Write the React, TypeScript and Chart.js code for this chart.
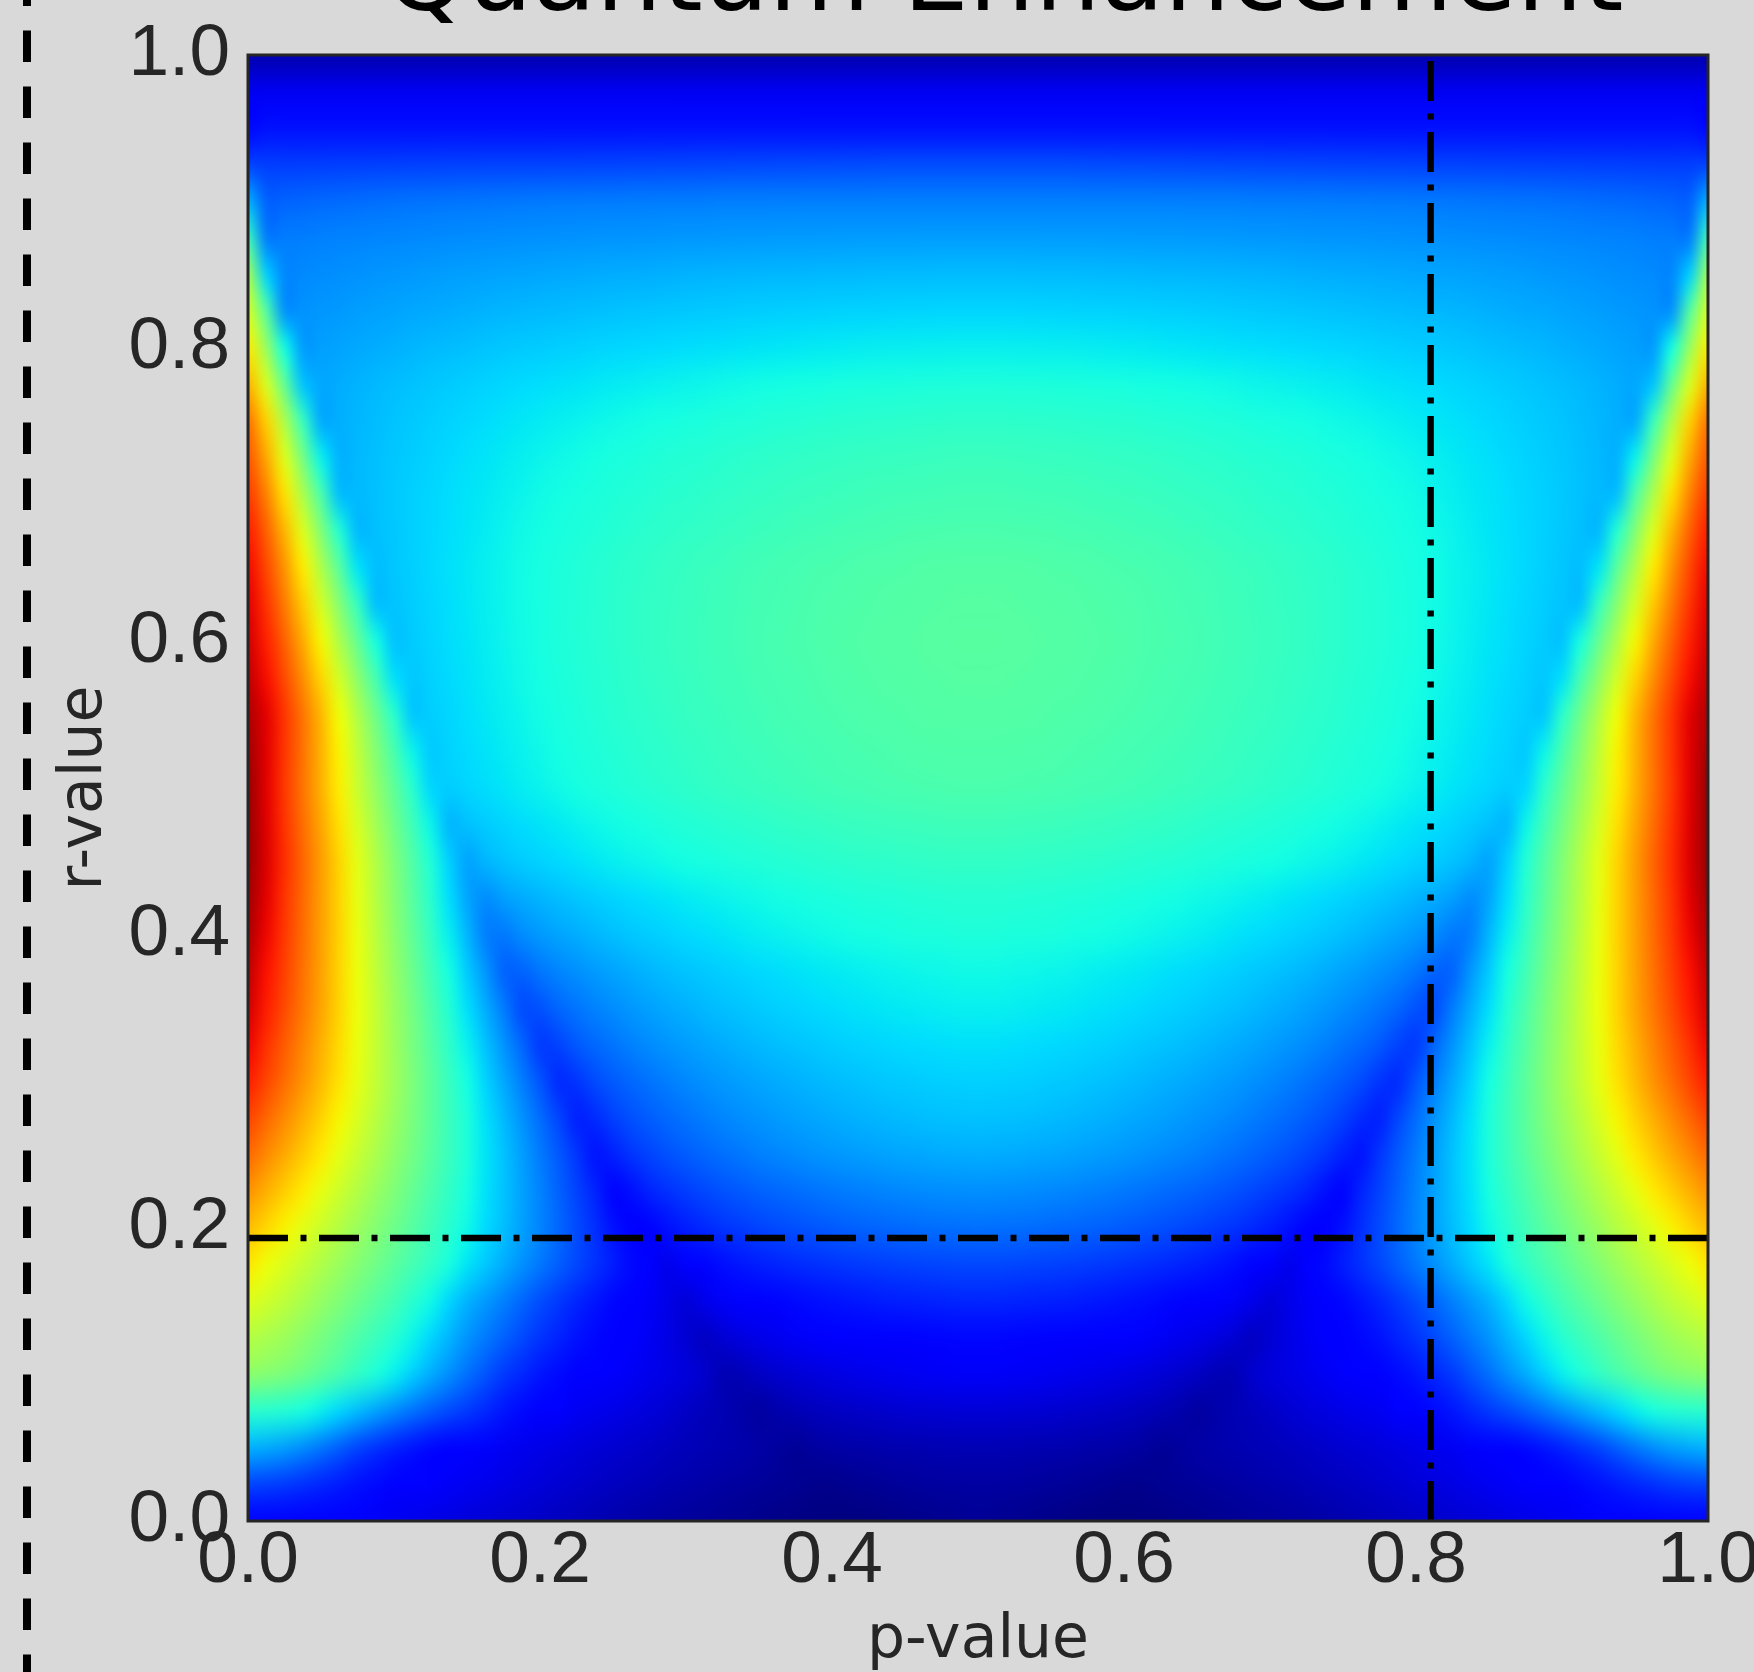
import React, { useEffect, useRef } from 'react';
import { Chart, registerables } from 'chart.js';

Chart.register(...registerables);

// ---------------- data ----------------
const TITLE = 'Quantum Enhancement';
const X_LABEL = 'p-value';
const Y_LABEL = 'r-value';

const X_TICKS = [0, 0.2, 0.4, 0.6, 0.8, 1.0];
const Y_TICKS = [0, 0.2, 0.4, 0.6, 0.8, 1.0];

// marker lines (dash-dot)
const P_MARK = 0.81;
const R_MARK = 0.193;

// grid columns (p) and rows (r, listed top to bottom)
const P_VALUES = [0, 0.0125, 0.025, 0.0375, 0.05, 0.0625, 0.075, 0.0875, 0.1, 0.1125, 0.125, 0.1375, 0.15, 0.1625, 0.175, 0.1875, 0.2, 0.2125, 0.225, 0.2375, 0.25, 0.2625, 0.275, 0.2875, 0.3, 0.3125, 0.325, 0.3375, 0.35, 0.3625, 0.375, 0.3875, 0.4, 0.4125, 0.425, 0.4375, 0.45, 0.4625, 0.475, 0.4875, 0.5, 0.5125, 0.525, 0.5375, 0.55, 0.5625, 0.575, 0.5875, 0.6, 0.6125, 0.625, 0.6375, 0.65, 0.6625, 0.675, 0.6875, 0.7, 0.7125, 0.725, 0.7375, 0.75, 0.7625, 0.775, 0.7875, 0.8, 0.8125, 0.825, 0.8375, 0.85, 0.8625, 0.875, 0.8875, 0.9, 0.9125, 0.925, 0.9375, 0.95, 0.9625, 0.975, 0.9875, 1];
const R_VALUES = [1, 0.975, 0.95, 0.925, 0.9, 0.875, 0.85, 0.825, 0.8, 0.775, 0.75, 0.725, 0.7, 0.675, 0.65, 0.625, 0.6, 0.575, 0.55, 0.525, 0.5, 0.475, 0.45, 0.425, 0.4, 0.375, 0.35, 0.325, 0.3, 0.275, 0.25, 0.225, 0.2, 0.175, 0.15, 0.125, 0.1, 0.075, 0.05, 0.025, 0];

// normalised enhancement value, one row per r (top to bottom), one entry per p
const R1000 = [
  0.04, 0.04, 0.04, 0.04, 0.04, 0.04, 0.04, 0.04, 0.04,
  0.04, 0.04, 0.04, 0.04, 0.04, 0.04, 0.04, 0.04, 0.04,
  0.04, 0.04, 0.04, 0.04, 0.04, 0.04, 0.04, 0.04, 0.04,
  0.04, 0.04, 0.04, 0.04, 0.04, 0.04, 0.04, 0.04, 0.04,
  0.04, 0.04, 0.04, 0.04, 0.04, 0.04, 0.04, 0.04, 0.04,
  0.04, 0.04, 0.04, 0.04, 0.04, 0.04, 0.04, 0.04, 0.04,
  0.04, 0.04, 0.04, 0.04, 0.04, 0.04, 0.04, 0.04, 0.04,
  0.04, 0.04, 0.04, 0.04, 0.04, 0.04, 0.04, 0.04, 0.04,
  0.04, 0.04, 0.04, 0.04, 0.04, 0.04, 0.04, 0.04, 0.04,
];
const R0975 = [
  0.1, 0.1, 0.1, 0.1, 0.1, 0.1, 0.1, 0.1, 0.1,
  0.1, 0.1, 0.1, 0.1, 0.1, 0.1, 0.1, 0.1, 0.1,
  0.1, 0.1, 0.1, 0.1, 0.1, 0.1, 0.1, 0.1, 0.1,
  0.1, 0.1, 0.1, 0.1, 0.1, 0.1, 0.1, 0.1, 0.1,
  0.1, 0.1, 0.1, 0.1, 0.1, 0.1, 0.1, 0.1, 0.1,
  0.1, 0.1, 0.1, 0.1, 0.1, 0.1, 0.1, 0.1, 0.1,
  0.1, 0.1, 0.1, 0.1, 0.1, 0.1, 0.1, 0.1, 0.1,
  0.1, 0.1, 0.1, 0.1, 0.1, 0.1, 0.1, 0.1, 0.1,
  0.1, 0.1, 0.1, 0.1, 0.1, 0.1, 0.1, 0.1, 0.1,
];
const R0950 = [
  0.13, 0.14, 0.14, 0.14, 0.14, 0.14, 0.14, 0.14, 0.14,
  0.14, 0.14, 0.14, 0.14, 0.14, 0.14, 0.14, 0.14, 0.14,
  0.14, 0.14, 0.14, 0.14, 0.14, 0.14, 0.14, 0.14, 0.14,
  0.14, 0.14, 0.14, 0.14, 0.14, 0.14, 0.14, 0.14, 0.14,
  0.14, 0.14, 0.14, 0.14, 0.14, 0.14, 0.14, 0.14, 0.14,
  0.14, 0.14, 0.14, 0.14, 0.14, 0.14, 0.14, 0.14, 0.14,
  0.14, 0.14, 0.14, 0.14, 0.14, 0.14, 0.14, 0.14, 0.14,
  0.14, 0.14, 0.14, 0.14, 0.14, 0.14, 0.14, 0.14, 0.14,
  0.14, 0.14, 0.14, 0.14, 0.14, 0.14, 0.14, 0.14, 0.13,
];
const R0925 = [0.19, 0.186, 0.185, 0.185, 0.185, 0.186, 0.186, 0.187, 0.187, 0.188, 0.188, 0.189, 0.189, 0.19, 0.19, 0.19, 0.19, 0.191, 0.191, 0.192, 0.192, 0.193, 0.193, 0.194, 0.194, 0.195, 0.195, 0.196, 0.196, 0.197, 0.197, 0.198, 0.198, 0.199, 0.199, 0.2, 0.2, 0.2, 0.2, 0.2, 0.2,
  0.2, 0.2, 0.2, 0.2, 0.2, 0.199, 0.199, 0.198, 0.198, 0.197, 0.197, 0.196, 0.196, 0.195, 0.195, 0.194, 0.194, 0.193, 0.193, 0.192, 0.192, 0.191, 0.191, 0.19, 0.19, 0.19, 0.19, 0.189, 0.189, 0.188, 0.188, 0.187, 0.187, 0.186, 0.186, 0.185, 0.185, 0.185, 0.186, 0.19];
const R0900 = [0.3, 0.22, 0.222, 0.225, 0.228, 0.23, 0.232, 0.234, 0.236, 0.238, 0.239, 0.24, 0.241, 0.242, 0.243, 0.244, 0.245, 0.246, 0.246, 0.247, 0.247, 0.248, 0.248, 0.249, 0.249, 0.249,
  0.25, 0.25, 0.25, 0.25, 0.25, 0.25, 0.25, 0.25, 0.25, 0.25,
  0.25, 0.25, 0.25, 0.25, 0.25, 0.25, 0.25, 0.25, 0.25, 0.25,
  0.25, 0.25, 0.25, 0.25, 0.25, 0.25, 0.25, 0.25, 0.25,
  0.249, 0.249, 0.249, 0.248, 0.248, 0.247, 0.247, 0.246, 0.246, 0.245, 0.244, 0.243, 0.242, 0.241, 0.24, 0.239, 0.238, 0.236, 0.234, 0.232, 0.23, 0.228, 0.225, 0.222, 0.22, 0.3];
const R0875 = [0.42, 0.246, 0.248, 0.249, 0.251, 0.253, 0.254, 0.256, 0.257, 0.259, 0.26, 0.262, 0.263, 0.264, 0.265, 0.266, 0.267, 0.268, 0.269, 0.27, 0.271, 0.271, 0.272, 0.273, 0.274, 0.274, 0.275, 0.276, 0.276, 0.277, 0.277, 0.278, 0.278, 0.279, 0.279, 0.279, 0.279, 0.28, 0.28, 0.28, 0.28,
  0.28, 0.28, 0.28, 0.279, 0.279, 0.279, 0.279, 0.278, 0.278, 0.277, 0.277, 0.276, 0.276, 0.275, 0.274, 0.274, 0.273, 0.272, 0.271, 0.271, 0.27, 0.269, 0.268, 0.267, 0.266, 0.265, 0.264, 0.263, 0.262, 0.26, 0.259, 0.257, 0.256, 0.254, 0.253, 0.251, 0.249, 0.248, 0.246, 0.42];
const R0850 = [0.55, 0.331, 0.257, 0.26, 0.263, 0.265, 0.268, 0.271, 0.273, 0.275, 0.278, 0.28, 0.282, 0.284, 0.286, 0.287, 0.289, 0.291, 0.292, 0.294, 0.295, 0.296, 0.297, 0.299, 0.3, 0.301, 0.302, 0.303, 0.304, 0.305, 0.305, 0.306, 0.307, 0.307, 0.308, 0.309, 0.309, 0.309, 0.31, 0.31, 0.31,
  0.31, 0.31, 0.309, 0.309, 0.309, 0.308, 0.307, 0.307, 0.306, 0.305, 0.305, 0.304, 0.303, 0.302, 0.301, 0.3, 0.299, 0.297, 0.296, 0.295, 0.294, 0.292, 0.291, 0.289, 0.287, 0.286, 0.284, 0.282, 0.28, 0.278, 0.275, 0.273, 0.271, 0.268, 0.265, 0.263, 0.26, 0.257, 0.331, 0.55];
const R0825 = [0.61, 0.453, 0.266, 0.269, 0.273, 0.276, 0.28, 0.283, 0.286, 0.29, 0.292, 0.295, 0.298, 0.3, 0.303, 0.305, 0.307, 0.309, 0.311, 0.313, 0.315, 0.317, 0.318, 0.32, 0.321, 0.323, 0.324, 0.326, 0.327, 0.328, 0.329, 0.33, 0.331, 0.332, 0.332, 0.333, 0.334, 0.334, 0.335, 0.335, 0.335,
  0.335, 0.335, 0.334, 0.334, 0.333, 0.332, 0.332, 0.331, 0.33, 0.329, 0.328, 0.327, 0.326, 0.324, 0.323, 0.321, 0.32, 0.318, 0.317, 0.315, 0.313, 0.311, 0.309, 0.307, 0.305, 0.303, 0.3, 0.298, 0.295, 0.292, 0.29, 0.286, 0.283, 0.28, 0.276, 0.273, 0.269, 0.266, 0.453, 0.61];
const R0800 = [0.66, 0.536, 0.374, 0.277, 0.282, 0.286, 0.291, 0.295, 0.299, 0.303, 0.307, 0.31, 0.313, 0.317, 0.32, 0.323, 0.325, 0.328, 0.33, 0.333, 0.335, 0.337, 0.339, 0.341, 0.343, 0.345, 0.346, 0.348, 0.35, 0.351, 0.352, 0.354, 0.355, 0.356, 0.357, 0.358, 0.358, 0.359, 0.359, 0.36, 0.36,
  0.36, 0.359, 0.359, 0.358, 0.358, 0.357, 0.356, 0.355, 0.354, 0.352, 0.351, 0.35, 0.348, 0.346, 0.345, 0.343, 0.341, 0.339, 0.337, 0.335, 0.333, 0.33, 0.328, 0.325, 0.323, 0.32, 0.317, 0.313, 0.31, 0.307, 0.303, 0.299, 0.295, 0.291, 0.286, 0.282, 0.277, 0.374, 0.536, 0.66];
const R0775 = [0.72, 0.612, 0.472, 0.317, 0.289, 0.295, 0.3, 0.306, 0.311, 0.315, 0.32, 0.324, 0.328, 0.332, 0.336, 0.34, 0.343, 0.346, 0.349, 0.352, 0.355, 0.357, 0.36, 0.362, 0.364, 0.366, 0.369, 0.371, 0.373, 0.374, 0.376, 0.377, 0.379, 0.38, 0.381, 0.382, 0.383, 0.384, 0.384, 0.385, 0.385,
  0.385, 0.384, 0.384, 0.383, 0.382, 0.381, 0.38, 0.379, 0.377, 0.376, 0.374, 0.373, 0.371, 0.369, 0.366, 0.364, 0.362, 0.36, 0.357, 0.355, 0.352, 0.349, 0.346, 0.343, 0.34, 0.336, 0.332, 0.328, 0.324, 0.32, 0.315, 0.311, 0.306, 0.3, 0.295, 0.289, 0.317, 0.472, 0.612, 0.72];
const R0750 = [0.79, 0.69, 0.562, 0.419, 0.291, 0.297, 0.304, 0.31, 0.317, 0.322, 0.327, 0.332, 0.337, 0.342, 0.347, 0.351, 0.355, 0.359, 0.362, 0.366, 0.369, 0.372, 0.375, 0.378, 0.38, 0.383, 0.386, 0.388, 0.39, 0.392, 0.394, 0.396, 0.398, 0.399, 0.4, 0.401, 0.402, 0.403, 0.404, 0.405, 0.405,
  0.405, 0.404, 0.403, 0.402, 0.401, 0.4, 0.399, 0.398, 0.396, 0.394, 0.392, 0.39, 0.388, 0.386, 0.383, 0.38, 0.378, 0.375, 0.372, 0.369, 0.366, 0.362, 0.359, 0.355, 0.351, 0.347, 0.342, 0.337, 0.332, 0.327, 0.322, 0.317, 0.31, 0.304, 0.297, 0.291, 0.419, 0.562, 0.69, 0.79];
const R0725 = [0.82, 0.733, 0.62, 0.495, 0.362, 0.299, 0.306, 0.313, 0.32, 0.326, 0.332, 0.338, 0.344, 0.349, 0.354, 0.359, 0.364, 0.368, 0.372, 0.376, 0.38, 0.383, 0.387, 0.39, 0.393, 0.395, 0.398, 0.401, 0.403, 0.406, 0.408, 0.41, 0.412, 0.413, 0.415, 0.416, 0.417, 0.418, 0.419, 0.42, 0.42,
  0.42, 0.419, 0.418, 0.417, 0.416, 0.415, 0.413, 0.412, 0.41, 0.408, 0.406, 0.403, 0.401, 0.398, 0.395, 0.393, 0.39, 0.387, 0.383, 0.38, 0.376, 0.372, 0.368, 0.364, 0.359, 0.354, 0.349, 0.344, 0.338, 0.332, 0.326, 0.32, 0.313, 0.306, 0.299, 0.362, 0.495, 0.62, 0.733, 0.82];
const R0700 = [0.85, 0.773, 0.672, 0.56, 0.442, 0.31, 0.307, 0.314, 0.322, 0.329, 0.335, 0.342, 0.348, 0.353, 0.359, 0.364, 0.37, 0.374, 0.379, 0.383, 0.387, 0.39, 0.394, 0.398, 0.4, 0.404, 0.407, 0.409, 0.412, 0.414, 0.417, 0.419, 0.421, 0.423, 0.424, 0.426, 0.427, 0.428, 0.429, 0.43, 0.43,
  0.43, 0.429, 0.428, 0.427, 0.426, 0.424, 0.423, 0.421, 0.419, 0.417, 0.414, 0.412, 0.409, 0.407, 0.404, 0.4, 0.398, 0.394, 0.39, 0.387, 0.383, 0.379, 0.374, 0.37, 0.364, 0.359, 0.353, 0.348, 0.342, 0.335, 0.329, 0.322, 0.314, 0.307, 0.31, 0.442, 0.56, 0.672, 0.773, 0.85];
const R0675 = [0.88, 0.809, 0.718, 0.617, 0.508, 0.393, 0.305, 0.313, 0.321, 0.329, 0.336, 0.343, 0.35, 0.356, 0.363, 0.369, 0.374, 0.379, 0.384, 0.388, 0.393, 0.397, 0.401, 0.405, 0.408, 0.411, 0.414, 0.417, 0.421, 0.423, 0.426, 0.428, 0.43, 0.432, 0.434, 0.435, 0.437, 0.438, 0.439, 0.44, 0.44,
  0.44, 0.439, 0.438, 0.437, 0.435, 0.434, 0.432, 0.43, 0.428, 0.426, 0.423, 0.421, 0.417, 0.414, 0.411, 0.408, 0.405, 0.401, 0.397, 0.393, 0.388, 0.384, 0.379, 0.374, 0.369, 0.363, 0.356, 0.35, 0.343, 0.336, 0.329, 0.321, 0.313, 0.305, 0.393, 0.508, 0.617, 0.718, 0.809, 0.88];
const R0650 = [0.9, 0.836, 0.753, 0.661, 0.562, 0.459, 0.35, 0.311, 0.32, 0.328, 0.337, 0.345, 0.352, 0.359, 0.365, 0.372, 0.378, 0.383, 0.389, 0.394, 0.399, 0.403, 0.407, 0.412, 0.415, 0.419, 0.422, 0.426, 0.429, 0.432, 0.434, 0.437, 0.439, 0.441, 0.443, 0.445, 0.446, 0.448, 0.449, 0.45, 0.45,
  0.45, 0.449, 0.448, 0.446, 0.445, 0.443, 0.441, 0.439, 0.437, 0.434, 0.432, 0.429, 0.426, 0.422, 0.419, 0.415, 0.412, 0.407, 0.403, 0.399, 0.394, 0.389, 0.383, 0.378, 0.372, 0.365, 0.359, 0.352, 0.345, 0.337, 0.328, 0.32, 0.311, 0.35, 0.459, 0.562, 0.661, 0.753, 0.836, 0.9];
const R0625 = [0.915, 0.857, 0.781, 0.697, 0.608, 0.513, 0.415, 0.312, 0.317, 0.326, 0.335, 0.343, 0.351, 0.358, 0.365, 0.372, 0.378, 0.384, 0.39, 0.395, 0.4, 0.405, 0.409, 0.413, 0.417, 0.421, 0.424, 0.428, 0.431, 0.434, 0.437, 0.44, 0.442, 0.444, 0.446, 0.448, 0.449, 0.451, 0.452, 0.453, 0.453,
  0.453, 0.452, 0.451, 0.449, 0.448, 0.446, 0.444, 0.442, 0.44, 0.437, 0.434, 0.431, 0.428, 0.424, 0.421, 0.417, 0.413, 0.409, 0.405, 0.4, 0.395, 0.39, 0.384, 0.378, 0.372, 0.365, 0.358, 0.351, 0.343, 0.335, 0.326, 0.317, 0.312, 0.415, 0.513, 0.608, 0.697, 0.781, 0.857, 0.915];
const R0600 = [0.93, 0.877, 0.807, 0.73, 0.648, 0.56, 0.471, 0.378, 0.315, 0.324, 0.333, 0.342, 0.35, 0.357, 0.364, 0.371, 0.378, 0.384, 0.39, 0.395, 0.4, 0.405, 0.41, 0.414, 0.418, 0.422, 0.425, 0.429, 0.433, 0.436, 0.438, 0.441, 0.444, 0.446, 0.448, 0.45, 0.451, 0.453, 0.454, 0.455, 0.455,
  0.455, 0.454, 0.453, 0.451, 0.45, 0.448, 0.446, 0.444, 0.441, 0.438, 0.436, 0.433, 0.429, 0.425, 0.422, 0.418, 0.414, 0.41, 0.405, 0.4, 0.395, 0.39, 0.384, 0.378, 0.371, 0.364, 0.357, 0.35, 0.342, 0.333, 0.324, 0.315, 0.378, 0.471, 0.56, 0.648, 0.73, 0.807, 0.877, 0.93];
const R0575 = [0.945, 0.896, 0.832, 0.76, 0.684, 0.604, 0.52, 0.434, 0.345, 0.321, 0.33, 0.339, 0.347, 0.355, 0.362, 0.369, 0.375, 0.382, 0.388, 0.393, 0.398, 0.403, 0.408, 0.412, 0.416, 0.42, 0.424, 0.427, 0.431, 0.434, 0.436, 0.439, 0.442, 0.444, 0.446, 0.448, 0.449, 0.451, 0.452, 0.453, 0.453,
  0.453, 0.452, 0.451, 0.449, 0.448, 0.446, 0.444, 0.442, 0.439, 0.436, 0.434, 0.431, 0.427, 0.424, 0.42, 0.416, 0.412, 0.408, 0.403, 0.398, 0.393, 0.388, 0.382, 0.375, 0.369, 0.362, 0.355, 0.347, 0.339, 0.33, 0.321, 0.345, 0.434, 0.52, 0.604, 0.684, 0.76, 0.832, 0.896, 0.945];
const R0550 = [0.96, 0.914, 0.854, 0.787, 0.716, 0.641, 0.563, 0.484, 0.4, 0.319, 0.327, 0.335, 0.344, 0.352, 0.359, 0.366, 0.373, 0.379, 0.385, 0.39, 0.396, 0.401, 0.405, 0.409, 0.414, 0.417, 0.421, 0.424, 0.428, 0.431, 0.434, 0.436, 0.439, 0.441, 0.443, 0.445, 0.446, 0.448, 0.449, 0.45, 0.45,
  0.45, 0.449, 0.448, 0.446, 0.445, 0.443, 0.441, 0.439, 0.436, 0.434, 0.431, 0.428, 0.424, 0.421, 0.417, 0.414, 0.409, 0.405, 0.401, 0.396, 0.39, 0.385, 0.379, 0.373, 0.366, 0.359, 0.352, 0.344, 0.335, 0.327, 0.319, 0.4, 0.484, 0.563, 0.641, 0.716, 0.787, 0.854, 0.914, 0.96];
const R0525 = [0.97, 0.916, 0.854, 0.789, 0.722, 0.653, 0.583, 0.511, 0.438, 0.364, 0.323, 0.332, 0.34, 0.348, 0.355, 0.362, 0.368, 0.375, 0.381, 0.386, 0.391, 0.396, 0.401, 0.405, 0.409, 0.413, 0.417, 0.42, 0.423, 0.426, 0.429, 0.431, 0.434, 0.436, 0.438, 0.44, 0.442, 0.443, 0.444, 0.445, 0.445,
  0.445, 0.444, 0.443, 0.442, 0.44, 0.438, 0.436, 0.434, 0.431, 0.429, 0.426, 0.423, 0.42, 0.417, 0.413, 0.409, 0.405, 0.401, 0.396, 0.391, 0.386, 0.381, 0.375, 0.368, 0.362, 0.355, 0.348, 0.34, 0.332, 0.323, 0.364, 0.438, 0.511, 0.583, 0.653, 0.722, 0.789, 0.854, 0.916, 0.97];
const R0500 = [0.98, 0.915, 0.851, 0.787, 0.723, 0.658, 0.593, 0.529, 0.465, 0.4, 0.335, 0.326, 0.334, 0.342, 0.35, 0.357, 0.363, 0.369, 0.376, 0.381, 0.386, 0.391, 0.396, 0.4, 0.404, 0.408, 0.412, 0.415, 0.418, 0.421, 0.424, 0.427, 0.429, 0.431, 0.433, 0.435, 0.436, 0.438, 0.439, 0.44, 0.44,
  0.44, 0.439, 0.438, 0.436, 0.435, 0.433, 0.431, 0.429, 0.427, 0.424, 0.421, 0.418, 0.415, 0.412, 0.408, 0.404, 0.4, 0.396, 0.391, 0.386, 0.381, 0.376, 0.369, 0.363, 0.357, 0.35, 0.342, 0.334, 0.326, 0.335, 0.4, 0.465, 0.529, 0.593, 0.658, 0.723, 0.787, 0.851, 0.915, 0.98];
const R0475 = [0.98, 0.918, 0.857, 0.795, 0.734, 0.672, 0.61, 0.549, 0.487, 0.426, 0.364, 0.303, 0.314, 0.324, 0.333, 0.341, 0.348, 0.354, 0.361, 0.367, 0.372, 0.377, 0.381, 0.386, 0.39, 0.394, 0.397, 0.4, 0.403, 0.407, 0.41, 0.412, 0.414, 0.417, 0.418, 0.42, 0.422, 0.423, 0.424, 0.425, 0.425,
  0.425, 0.424, 0.423, 0.422, 0.42, 0.418, 0.417, 0.414, 0.412, 0.41, 0.407, 0.403, 0.4, 0.397, 0.394, 0.39, 0.386, 0.381, 0.377, 0.372, 0.367, 0.361, 0.354, 0.348, 0.341, 0.333, 0.324, 0.314, 0.303, 0.364, 0.426, 0.487, 0.549, 0.61, 0.672, 0.734, 0.795, 0.857, 0.918, 0.98];
const R0450 = [0.98, 0.921, 0.862, 0.803, 0.744, 0.684, 0.625, 0.566, 0.507, 0.448, 0.389, 0.33, 0.285, 0.303, 0.316, 0.325, 0.332, 0.339, 0.346, 0.352, 0.358, 0.363, 0.367, 0.372, 0.376, 0.379, 0.383, 0.386, 0.389, 0.392, 0.395, 0.397, 0.4, 0.402, 0.404, 0.405, 0.407, 0.408, 0.409, 0.41, 0.41,
  0.41, 0.409, 0.408, 0.407, 0.405, 0.404, 0.402, 0.4, 0.397, 0.395, 0.392, 0.389, 0.386, 0.383, 0.379, 0.376, 0.372, 0.367, 0.363, 0.358, 0.352, 0.346, 0.339, 0.332, 0.325, 0.316, 0.303, 0.285, 0.33, 0.389, 0.448, 0.507, 0.566, 0.625, 0.684, 0.744, 0.803, 0.862, 0.921, 0.98];
const R0425 = [0.97, 0.913, 0.856, 0.799, 0.742, 0.685, 0.628, 0.571, 0.514, 0.457, 0.4, 0.343, 0.287, 0.262, 0.281, 0.293, 0.302, 0.311, 0.319, 0.326, 0.333, 0.339, 0.345, 0.35, 0.355, 0.359, 0.363, 0.367, 0.37, 0.374, 0.377, 0.38, 0.383, 0.385, 0.388, 0.389, 0.391, 0.392, 0.394, 0.395, 0.395,
  0.395, 0.394, 0.392, 0.391, 0.389, 0.388, 0.385, 0.383, 0.38, 0.377, 0.374, 0.37, 0.367, 0.363, 0.359, 0.355, 0.35, 0.345, 0.339, 0.333, 0.326, 0.319, 0.311, 0.302, 0.293, 0.281, 0.262, 0.287, 0.343, 0.4, 0.457, 0.514, 0.571, 0.628, 0.685, 0.742, 0.799, 0.856, 0.913, 0.97];
const R0400 = [0.96, 0.905, 0.851, 0.796, 0.741, 0.687, 0.632, 0.577, 0.522, 0.468, 0.413, 0.358, 0.304, 0.249, 0.243, 0.262, 0.275, 0.286, 0.295, 0.304, 0.312, 0.32, 0.326, 0.332, 0.338, 0.343, 0.348, 0.353, 0.357, 0.361, 0.364, 0.368, 0.371, 0.374, 0.376, 0.378, 0.381, 0.382, 0.383, 0.385, 0.385,
  0.385, 0.383, 0.382, 0.381, 0.378, 0.376, 0.374, 0.371, 0.368, 0.364, 0.361, 0.357, 0.353, 0.348, 0.343, 0.338, 0.332, 0.326, 0.32, 0.312, 0.304, 0.295, 0.286, 0.275, 0.262, 0.243, 0.249, 0.304, 0.358, 0.413, 0.468, 0.522, 0.577, 0.632, 0.687, 0.741, 0.796, 0.851, 0.905, 0.96];
const R0375 = [0.945, 0.893, 0.842, 0.79, 0.738, 0.686, 0.635, 0.583, 0.531, 0.48, 0.428, 0.376, 0.324, 0.273, 0.221, 0.221, 0.241, 0.255, 0.266, 0.277, 0.286, 0.295, 0.303, 0.31, 0.317, 0.322, 0.328, 0.333, 0.338, 0.342, 0.347, 0.351, 0.354, 0.357, 0.36, 0.363, 0.365, 0.367, 0.368, 0.37, 0.37,
  0.37, 0.368, 0.367, 0.365, 0.363, 0.36, 0.357, 0.354, 0.351, 0.347, 0.342, 0.338, 0.333, 0.328, 0.322, 0.317, 0.31, 0.303, 0.295, 0.286, 0.277, 0.266, 0.255, 0.241, 0.221, 0.221, 0.273, 0.324, 0.376, 0.428, 0.48, 0.531, 0.583, 0.635, 0.686, 0.738, 0.79, 0.842, 0.893, 0.945];
const R0350 = [0.93, 0.881, 0.832, 0.784, 0.735, 0.686, 0.637, 0.588, 0.539, 0.491, 0.442, 0.393, 0.344, 0.295, 0.247, 0.198, 0.204, 0.225, 0.24, 0.252, 0.263, 0.274, 0.283, 0.292, 0.299, 0.306, 0.313, 0.318, 0.324, 0.329, 0.333, 0.338, 0.342, 0.346, 0.349, 0.352, 0.354, 0.356, 0.358, 0.36, 0.36,
  0.36, 0.358, 0.356, 0.354, 0.352, 0.349, 0.346, 0.342, 0.338, 0.333, 0.329, 0.324, 0.318, 0.313, 0.306, 0.299, 0.292, 0.283, 0.274, 0.263, 0.252, 0.24, 0.225, 0.204, 0.198, 0.247, 0.295, 0.344, 0.393, 0.442, 0.491, 0.539, 0.588, 0.637, 0.686, 0.735, 0.784, 0.832, 0.881, 0.93];
const R0325 = [0.905, 0.86, 0.814, 0.769, 0.724, 0.678, 0.633, 0.588, 0.542, 0.497, 0.452, 0.406, 0.361, 0.316, 0.27, 0.225, 0.18, 0.19, 0.212, 0.227, 0.239, 0.251, 0.262, 0.271, 0.279, 0.287, 0.294, 0.3, 0.306, 0.312, 0.317, 0.321, 0.326, 0.33, 0.333, 0.336, 0.339, 0.341, 0.343, 0.345, 0.345,
  0.345, 0.343, 0.341, 0.339, 0.336, 0.333, 0.33, 0.326, 0.321, 0.317, 0.312, 0.306, 0.3, 0.294, 0.287, 0.279, 0.271, 0.262, 0.251, 0.239, 0.227, 0.212, 0.19, 0.18, 0.225, 0.27, 0.316, 0.361, 0.406, 0.452, 0.497, 0.542, 0.588, 0.633, 0.678, 0.724, 0.769, 0.814, 0.86, 0.905];
const R0300 = [0.88, 0.838, 0.796, 0.754, 0.712, 0.67, 0.628, 0.586, 0.544, 0.502, 0.46, 0.417, 0.375, 0.333, 0.291, 0.249, 0.207, 0.165, 0.175, 0.198, 0.213, 0.226, 0.238, 0.249, 0.258, 0.267, 0.275, 0.281, 0.288, 0.294, 0.299, 0.304, 0.309, 0.313, 0.317, 0.321, 0.323, 0.326, 0.328, 0.329, 0.33,
  0.329, 0.328, 0.326, 0.323, 0.321, 0.317, 0.313, 0.309, 0.304, 0.299, 0.294, 0.288, 0.281, 0.275, 0.267, 0.258, 0.249, 0.238, 0.226, 0.213, 0.198, 0.175, 0.165, 0.207, 0.249, 0.291, 0.333, 0.375, 0.417, 0.46, 0.502, 0.544, 0.586, 0.628, 0.67, 0.712, 0.754, 0.796, 0.838, 0.88];
const R0275 = [0.84, 0.802, 0.764, 0.726, 0.688, 0.65, 0.612, 0.574, 0.536, 0.498, 0.46, 0.422, 0.384, 0.346, 0.307, 0.269, 0.231, 0.193, 0.155, 0.165, 0.187, 0.203, 0.216, 0.228, 0.238, 0.248, 0.256, 0.264, 0.27, 0.277, 0.283, 0.288, 0.293, 0.298, 0.301, 0.305, 0.308, 0.311, 0.313, 0.314, 0.315,
  0.314, 0.313, 0.311, 0.308, 0.305, 0.301, 0.298, 0.293, 0.288, 0.283, 0.277, 0.27, 0.264, 0.256, 0.248, 0.238, 0.228, 0.216, 0.203, 0.187, 0.165, 0.155, 0.193, 0.231, 0.269, 0.307, 0.346, 0.384, 0.422, 0.46, 0.498, 0.536, 0.574, 0.612, 0.65, 0.688, 0.726, 0.764, 0.802, 0.84];
const R0250 = [0.8, 0.765, 0.731, 0.696, 0.662, 0.627, 0.592, 0.558, 0.523, 0.489, 0.454, 0.419, 0.385, 0.35, 0.316, 0.281, 0.246, 0.212, 0.177, 0.143, 0.155, 0.176, 0.191, 0.204, 0.215, 0.225, 0.234, 0.242, 0.25, 0.256, 0.262, 0.268, 0.273, 0.277, 0.281, 0.285, 0.288, 0.29, 0.293, 0.294, 0.295,
  0.294, 0.293, 0.29, 0.288, 0.285, 0.281, 0.277, 0.273, 0.268, 0.262, 0.256, 0.25, 0.242, 0.234, 0.225, 0.215, 0.204, 0.191, 0.176, 0.155, 0.143, 0.177, 0.212, 0.246, 0.281, 0.316, 0.35, 0.385, 0.419, 0.454, 0.489, 0.523, 0.558, 0.592, 0.627, 0.662, 0.696, 0.731, 0.765, 0.8];
const R0225 = [0.755, 0.724, 0.692, 0.661, 0.63, 0.598, 0.567, 0.535, 0.504, 0.473, 0.441, 0.41, 0.378, 0.347, 0.316, 0.284, 0.253, 0.221, 0.19, 0.159, 0.127, 0.138, 0.158, 0.172, 0.184, 0.195, 0.204, 0.212, 0.22, 0.226, 0.232, 0.238, 0.243, 0.248, 0.251, 0.255, 0.258, 0.261, 0.263, 0.264, 0.265,
  0.264, 0.263, 0.261, 0.258, 0.255, 0.251, 0.248, 0.243, 0.238, 0.232, 0.226, 0.22, 0.212, 0.204, 0.195, 0.184, 0.172, 0.158, 0.138, 0.127, 0.159, 0.19, 0.221, 0.253, 0.284, 0.316, 0.347, 0.378, 0.41, 0.441, 0.473, 0.504, 0.535, 0.567, 0.598, 0.63, 0.661, 0.692, 0.724, 0.755];
const R0200 = [0.71, 0.682, 0.653, 0.625, 0.596, 0.568, 0.539, 0.511, 0.482, 0.454, 0.426, 0.397, 0.369, 0.34, 0.312, 0.283, 0.255, 0.226, 0.198, 0.17, 0.141, 0.113, 0.12, 0.139, 0.152, 0.163, 0.174, 0.182, 0.19, 0.197, 0.202, 0.208, 0.213, 0.218, 0.222, 0.225, 0.228, 0.231, 0.233, 0.234, 0.235,
  0.234, 0.233, 0.231, 0.228, 0.225, 0.222, 0.218, 0.213, 0.208, 0.202, 0.197, 0.19, 0.182, 0.174, 0.163, 0.152, 0.139, 0.12, 0.113, 0.141, 0.17, 0.198, 0.226, 0.255, 0.283, 0.312, 0.34, 0.369, 0.397, 0.426, 0.454, 0.482, 0.511, 0.539, 0.568, 0.596, 0.625, 0.653, 0.682, 0.71];
const R0175 = [0.665, 0.639, 0.614, 0.588, 0.563, 0.537, 0.511, 0.486, 0.46, 0.435, 0.409, 0.38, 0.35, 0.322, 0.295, 0.268, 0.243, 0.218, 0.195, 0.173, 0.152, 0.133, 0.11, 0.093, 0.115, 0.127, 0.137, 0.146, 0.153, 0.159, 0.165, 0.17, 0.175, 0.179, 0.183, 0.186, 0.189, 0.191, 0.193, 0.195, 0.195,
  0.195, 0.193, 0.191, 0.189, 0.186, 0.183, 0.179, 0.175, 0.17, 0.165, 0.159, 0.153, 0.146, 0.137, 0.127, 0.115, 0.093, 0.11, 0.133, 0.152, 0.173, 0.195, 0.218, 0.243, 0.268, 0.295, 0.322, 0.35, 0.38, 0.409, 0.435, 0.46, 0.486, 0.511, 0.537, 0.563, 0.588, 0.614, 0.639, 0.665];
const R0150 = [0.62, 0.6, 0.58, 0.555, 0.53, 0.505, 0.48, 0.455, 0.43, 0.4, 0.37, 0.335, 0.3, 0.275, 0.25, 0.225, 0.2, 0.18, 0.16, 0.145, 0.13, 0.117, 0.105, 0.09, 0.076, 0.094, 0.104, 0.113, 0.12, 0.127, 0.132, 0.137, 0.141, 0.145, 0.149, 0.152, 0.154, 0.156, 0.158, 0.16, 0.16,
  0.16, 0.158, 0.156, 0.154, 0.152, 0.149, 0.145, 0.141, 0.137, 0.132, 0.127, 0.12, 0.113, 0.104, 0.094, 0.076, 0.09, 0.105, 0.117, 0.13, 0.145, 0.16, 0.18, 0.2, 0.225, 0.25, 0.275, 0.3, 0.335, 0.37, 0.4, 0.43, 0.455, 0.48, 0.505, 0.53, 0.555, 0.58, 0.6, 0.62];
const R0125 = [0.57, 0.555, 0.54, 0.518, 0.495, 0.47, 0.445, 0.42, 0.395, 0.365, 0.335, 0.302, 0.27, 0.245, 0.22, 0.197, 0.175, 0.158, 0.142, 0.131, 0.12, 0.11, 0.1, 0.088, 0.072, 0.057, 0.072, 0.083, 0.091, 0.097, 0.103, 0.108, 0.112, 0.116, 0.119, 0.122, 0.124, 0.127, 0.128, 0.13, 0.13,
  0.13, 0.128, 0.127, 0.124, 0.122, 0.119, 0.116, 0.112, 0.108, 0.103, 0.097, 0.091, 0.083, 0.072, 0.057, 0.072, 0.088, 0.1, 0.11, 0.12, 0.131, 0.142, 0.158, 0.175, 0.197, 0.22, 0.245, 0.27, 0.302, 0.335, 0.365, 0.395, 0.42, 0.445, 0.47, 0.495, 0.518, 0.54, 0.555, 0.57];
const R0100 = [0.52, 0.512, 0.5, 0.482, 0.46, 0.436, 0.41, 0.385, 0.36, 0.328, 0.295, 0.265, 0.235, 0.207, 0.18, 0.162, 0.145, 0.133, 0.122, 0.115, 0.108, 0.101, 0.094, 0.087, 0.079, 0.068, 0.045, 0.047, 0.059, 0.067, 0.074, 0.08, 0.085, 0.089, 0.093, 0.096, 0.099, 0.101, 0.103, 0.105, 0.105,
  0.105, 0.103, 0.101, 0.099, 0.096, 0.093, 0.089, 0.085, 0.08, 0.074, 0.067, 0.059, 0.047, 0.045, 0.068, 0.079, 0.087, 0.094, 0.101, 0.108, 0.115, 0.122, 0.133, 0.145, 0.162, 0.18, 0.207, 0.235, 0.265, 0.295, 0.328, 0.36, 0.385, 0.41, 0.436, 0.46, 0.482, 0.5, 0.512, 0.52];
const R0075 = [0.4, 0.397, 0.39, 0.377, 0.36, 0.336, 0.31, 0.285, 0.26, 0.237, 0.215, 0.197, 0.18, 0.162, 0.145, 0.132, 0.12, 0.11, 0.1, 0.095, 0.09, 0.084, 0.078, 0.07, 0.06, 0.052, 0.045, 0.037, 0.028, 0.038, 0.046, 0.052, 0.057, 0.061, 0.064, 0.067, 0.07, 0.072, 0.073, 0.075, 0.075,
  0.075, 0.073, 0.072, 0.07, 0.067, 0.064, 0.061, 0.057, 0.052, 0.046, 0.038, 0.028, 0.037, 0.045, 0.052, 0.06, 0.07, 0.078, 0.084, 0.09, 0.095, 0.1, 0.11, 0.12, 0.132, 0.145, 0.162, 0.18, 0.197, 0.215, 0.237, 0.26, 0.285, 0.31, 0.336, 0.36, 0.377, 0.39, 0.397, 0.4];
const R0050 = [0.3, 0.292, 0.28, 0.262, 0.24, 0.215, 0.19, 0.172, 0.155, 0.142, 0.13, 0.122, 0.115, 0.107, 0.1, 0.095, 0.09, 0.085, 0.08, 0.075, 0.07, 0.065, 0.06, 0.055, 0.05, 0.046, 0.042, 0.038, 0.033, 0.026, 0.019, 0.027, 0.032, 0.035, 0.037, 0.04, 0.041, 0.043, 0.044, 0.045, 0.045,
  0.045, 0.044, 0.043, 0.041, 0.04, 0.037, 0.035, 0.032, 0.027, 0.019, 0.026, 0.033, 0.038, 0.042, 0.046, 0.05, 0.055, 0.06, 0.065, 0.07, 0.075, 0.08, 0.085, 0.09, 0.095, 0.1, 0.107, 0.115, 0.122, 0.13, 0.142, 0.155, 0.172, 0.19, 0.215, 0.24, 0.262, 0.28, 0.292, 0.3];
const R0025 = [0.19, 0.186, 0.18, 0.17, 0.16, 0.15, 0.14, 0.132, 0.125, 0.118, 0.11, 0.105, 0.1, 0.094, 0.088, 0.082, 0.077, 0.071, 0.066, 0.061, 0.056, 0.051, 0.047, 0.042, 0.038, 0.034, 0.03, 0.026, 0.023, 0.019, 0.016, 0.012, 0.011, 0.015, 0.018, 0.021, 0.024, 0.026, 0.028, 0.029, 0.03,
  0.029, 0.028, 0.026, 0.024, 0.021, 0.018, 0.015, 0.011, 0.012, 0.016, 0.019, 0.023, 0.026, 0.03, 0.034, 0.038, 0.042, 0.047, 0.051, 0.056, 0.061, 0.066, 0.071, 0.077, 0.082, 0.088, 0.094, 0.1, 0.105, 0.11, 0.118, 0.125, 0.132, 0.14, 0.15, 0.16, 0.17, 0.18, 0.186, 0.19];
const R0000 = [0.12, 0.12, 0.12, 0.118, 0.115, 0.113, 0.11, 0.105, 0.1, 0.095, 0.09, 0.085, 0.08, 0.075, 0.07, 0.065, 0.06, 0.055, 0.05, 0.045, 0.04, 0.035, 0.03, 0.027, 0.024, 0.021, 0.018, 0.014, 0.01, 0.007, 0.004, 0.002, 0.001, 0.0, 0.002, 0.005, 0.008, 0.011, 0.014, 0.017, 0.02,
  0.017, 0.014, 0.011, 0.008, 0.005, 0.002, 0.0, 0.001, 0.002, 0.004, 0.007, 0.01, 0.014, 0.018, 0.021, 0.024, 0.027, 0.03, 0.035, 0.04, 0.045, 0.05, 0.055, 0.06, 0.065, 0.07, 0.075, 0.08, 0.085, 0.09, 0.095, 0.1, 0.105, 0.11, 0.113, 0.115, 0.118, 0.12, 0.12, 0.12];

const GRID_ROWS = [R1000, R0975, R0950, R0925, R0900, R0875, R0850, R0825, R0800, R0775, R0750, R0725, R0700, R0675, R0650, R0625, R0600, R0575, R0550, R0525, R0500, R0475, R0450, R0425, R0400, R0375, R0350, R0325, R0300, R0275, R0250, R0225, R0200, R0175, R0150, R0125, R0100, R0075, R0050, R0025, R0000];

// ---------------- styling ----------------
const BG = '#d9d9d9';
const TEXT_COLOR = '#262626';
const TICK_FONT = '"Liberation Sans", Arial, sans-serif';
const LABEL_FONT = '"DejaVu Sans", sans-serif';

// matplotlib "jet" colormap segments
const JET_R = [[0, 0], [0.35, 0], [0.66, 1], [0.89, 1], [1, 0.5]];
const JET_G = [[0, 0], [0.125, 0], [0.375, 1], [0.64, 1], [0.91, 0], [1, 0]];
const JET_B = [[0, 0.5], [0.11, 1], [0.34, 1], [0.65, 0], [1, 0]];

function seg(points: number[][], v: number): number {
  if (v <= points[0][0]) return points[0][1];
  for (let i = 1; i < points.length; i++) {
    if (v <= points[i][0]) {
      const [x0, y0] = points[i - 1];
      const [x1, y1] = points[i];
      return y0 + ((y1 - y0) * (v - x0)) / (x1 - x0);
    }
  }
  return points[points.length - 1][1];
}

function jet(v: number): [number, number, number] {
  const t = Math.max(0, Math.min(1, v));
  return [
    Math.round(seg(JET_R, t) * 255),
    Math.round(seg(JET_G, t) * 255),
    Math.round(seg(JET_B, t) * 255),
  ];
}

// sanity check of the typed table (shape and left/right symmetry)
function checkGrid(): string[] {
  const problems: string[] = [];
  if (GRID_ROWS.length !== R_VALUES.length) problems.push(`rows ${GRID_ROWS.length} != ${R_VALUES.length}`);
  GRID_ROWS.forEach((row, j) => {
    if (row.length !== P_VALUES.length) {
      problems.push(`row r=${R_VALUES[j]} has ${row.length} values`);
      return;
    }
    for (let i = 0; i < row.length; i++) {
      if (row[i] !== row[row.length - 1 - i]) {
        problems.push(`row r=${R_VALUES[j]} asym at ${i}: ${row[i]} vs ${row[row.length - 1 - i]}`);
        break;
      }
    }
  });
  return problems;
}

function buildImage(): HTMLCanvasElement {
  const cols = P_VALUES.length;
  const rows = R_VALUES.length;
  const off = document.createElement('canvas');
  off.width = cols;
  off.height = rows;
  const octx = off.getContext('2d')!;
  const img = octx.createImageData(cols, rows);
  for (let j = 0; j < rows; j++) {
    const row = GRID_ROWS[j] || [];
    for (let i = 0; i < cols; i++) {
      const [r, g, b] = jet(row[i] ?? 0);
      const k = (j * cols + i) * 4;
      img.data[k] = r;
      img.data[k + 1] = g;
      img.data[k + 2] = b;
      img.data[k + 3] = 255;
    }
  }
  octx.putImageData(img, 0, 0);
  return off;
}

const GRID_PROBLEMS = checkGrid();

export default function App() {
  const canvasRef = useRef<HTMLCanvasElement | null>(null);

  useEffect(() => {
    const canvas = canvasRef.current;
    if (!canvas) return;
    const heatImage = buildImage();

    const backgroundPlugin = {
      id: 'bg',
      beforeDraw(chart: any) {
        const ctx = chart.ctx;
        ctx.save();
        ctx.fillStyle = BG;
        ctx.fillRect(0, 0, chart.width, chart.height);
        ctx.restore();
      },
    };

    const heatmapPlugin = {
      id: 'heatmap',
      beforeDatasetsDraw(chart: any) {
        const { ctx, chartArea, scales } = chart;
        const xs = scales.x;
        const ys = scales.y;
        const cols = P_VALUES.length;
        const rows = R_VALUES.length;
        const x0 = xs.getPixelForValue(P_VALUES[0]);
        const x1 = xs.getPixelForValue(P_VALUES[cols - 1]);
        const y0 = ys.getPixelForValue(R_VALUES[0]);
        const y1 = ys.getPixelForValue(R_VALUES[rows - 1]);
        const cw = (x1 - x0) / (cols - 1);
        const ch = (y1 - y0) / (rows - 1);
        ctx.save();
        ctx.beginPath();
        ctx.rect(chartArea.left, chartArea.top, chartArea.right - chartArea.left, chartArea.bottom - chartArea.top);
        ctx.clip();
        ctx.imageSmoothingEnabled = true;
        (ctx as any).imageSmoothingQuality = 'high';
        ctx.drawImage(heatImage, x0 - cw / 2, y0 - ch / 2, cw * cols, ch * rows);
        ctx.restore();
      },
    };

    const framePlugin = {
      id: 'frame',
      afterDatasetsDraw(chart: any) {
        const { ctx, chartArea } = chart;
        ctx.save();
        ctx.strokeStyle = TEXT_COLOR;
        ctx.lineWidth = 3;
        ctx.strokeRect(chartArea.left, chartArea.top, chartArea.right - chartArea.left, chartArea.bottom - chartArea.top);
        ctx.restore();
      },
    };

    const decorPlugin = {
      id: 'decor',
      afterDraw(chart: any) {
        const { ctx, chartArea } = chart;
        ctx.save();
        // title, partly cut off at the top of the picture
        ctx.fillStyle = '#000';
        ctx.font = `104px ${LABEL_FONT}`;
        ctx.textAlign = 'center';
        ctx.textBaseline = 'alphabetic';
        ctx.fillText(TITLE, (chartArea.left + chartArea.right) / 2 + 26, 10);
        // dashed frame edge on the far left
        ctx.strokeStyle = '#000';
        ctx.lineWidth = 8;
        ctx.setLineDash([31.5, 24.5]);
        ctx.beginPath();
        ctx.moveTo(27, 30.6 - 56);
        ctx.lineTo(27, chart.height + 10);
        ctx.stroke();
        ctx.restore();
      },
    };

    const dashStyle = {
      borderColor: '#000',
      borderWidth: 6.5,
      borderDash: [40, 12.5, 6, 12.5],
      borderCapStyle: 'butt' as const,
      pointRadius: 0,
      showLine: true,
      fill: false,
    };

    const chart = new Chart(canvas, {
      type: 'scatter',
      data: {
        datasets: [
          { ...dashStyle, data: [{ x: P_MARK, y: 0 }, { x: P_MARK, y: 1 }] },
          { ...dashStyle, data: [{ x: 0, y: R_MARK }, { x: 1, y: R_MARK }] },
        ],
      },
      options: {
        responsive: false,
        animation: false,
        devicePixelRatio: 1,
        layout: { padding: { left: 48, top: 55, right: 46, bottom: 0 } },
        plugins: {
          legend: { display: false },
          tooltip: { enabled: false },
          title: { display: false },
        },
        scales: {
          x: {
            type: 'linear',
            min: 0,
            max: 1,
            position: 'bottom',
            afterBuildTicks: (s: any) => {
              s.ticks = X_TICKS.map((v) => ({ value: v }));
            },
            afterFit: (s: any) => {
              s.height = 151;
              s.paddingLeft = 0;
              s.paddingRight = 0;
            },
            ticks: {
              autoSkip: false,
              maxRotation: 0,
              padding: 0,
              color: TEXT_COLOR,
              font: { family: TICK_FONT, size: 73, lineHeight: 1.13 },
              callback: (v: any) => Number(v).toFixed(1),
            },
            grid: { display: false, drawTicks: false },
            border: { display: false },
            title: {
              display: true,
              text: X_LABEL,
              color: TEXT_COLOR,
              font: { family: LABEL_FONT, size: 60, lineHeight: 1 },
              padding: { top: 0, bottom: 1 },
            },
          },
          y: {
            type: 'linear',
            min: 0,
            max: 1,
            position: 'left',
            afterBuildTicks: (s: any) => {
              s.ticks = Y_TICKS.map((v) => ({ value: v }));
            },
            afterFit: (s: any) => {
              s.width = 200;
              s.paddingTop = 0;
              s.paddingBottom = 0;
            },
            ticks: {
              autoSkip: false,
              padding: 18,
              color: TEXT_COLOR,
              font: { family: TICK_FONT, size: 73, lineHeight: 1.13 },
              callback: (v: any) => Number(v).toFixed(1),
            },
            grid: { display: false, drawTicks: false },
            border: { display: false },
            title: {
              display: true,
              text: Y_LABEL,
              color: TEXT_COLOR,
              font: { family: LABEL_FONT, size: 60, lineHeight: 1 },
              padding: { top: 7, bottom: 0 },
            },
          },
        },
      } as any,
      plugins: [backgroundPlugin, heatmapPlugin, framePlugin, decorPlugin],
    });

    return () => chart.destroy();
  }, []);

  return (
    <div style={{ position: 'absolute', left: 0, top: 0, width: 1754, height: 1672, background: BG }}>
      <canvas ref={canvasRef} width={1754} height={1672} style={{ display: 'block', width: 1754, height: 1672 }} />
      {GRID_PROBLEMS.length > 0 && (
        <pre style={{ position: 'absolute', left: 300, top: 200, fontSize: 28, color: 'red', background: 'white' }}>
          {GRID_PROBLEMS.join('\n')}
        </pre>
      )}
    </div>
  );
}
